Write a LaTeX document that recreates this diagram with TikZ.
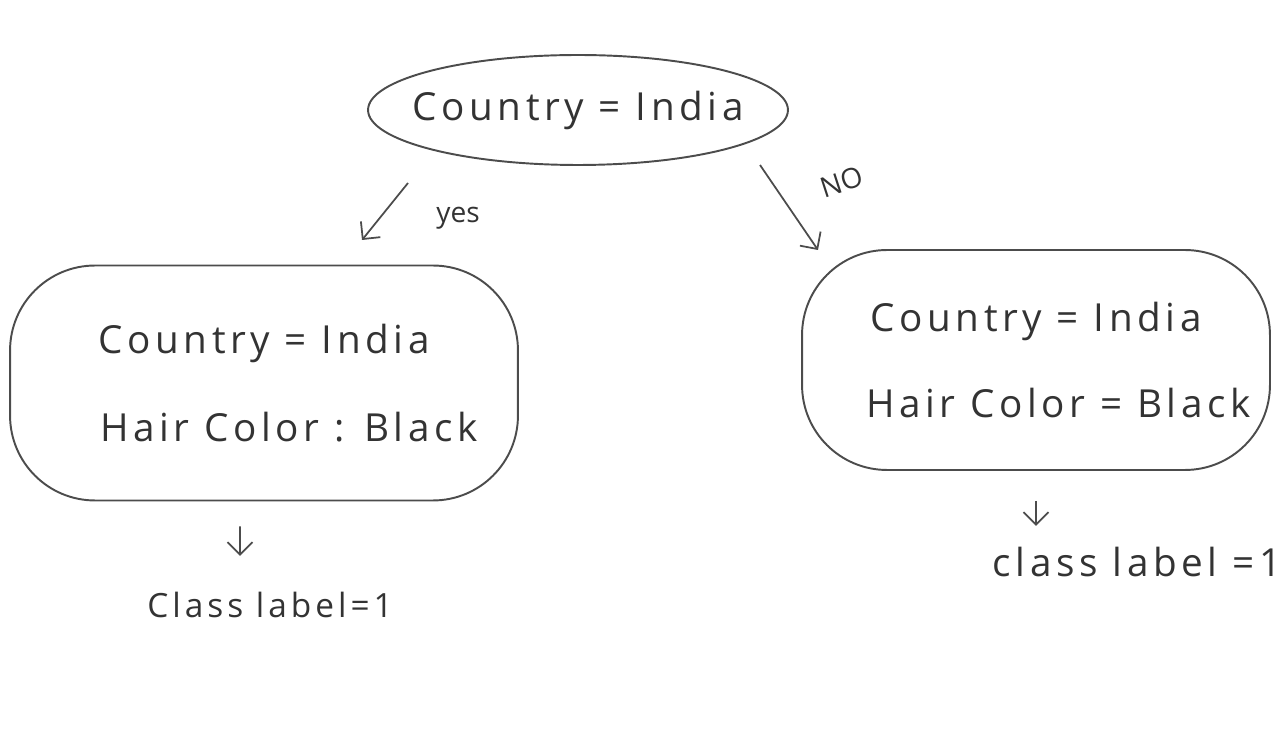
\documentclass[tikz,border=0pt]{standalone}
\usepackage{fontspec}
\setsansfont{Open Sans}[LetterSpace=12]
\newfontfamily\plainsans{Open Sans}
\usetikzlibrary{shapes.geometric,arrows.meta,positioning}
\definecolor{pencil}{gray}{0.3}
\tikzset{
  ink/.style={draw=pencil, line width=1.1pt},
  hand/.style={text=black!80, font=\sffamily\fontsize{22}{26}\selectfont},
  small hand/.style={text=black!80, font=\plainsans\fontsize{16}{19}\selectfont},
  decision/.style={ink, ellipse, minimum width=8.4cm, minimum height=2.2cm, inner xsep=-0.8cm, inner ysep=0pt},
  leafbox/.style={ink, rectangle, rounded corners=1.7cm, align=center, inner sep=0pt},
  pointer/.style={draw=pencil, line width=1pt, -{Straight Barb[length=2.5mm,width=5mm]}}
}
\begin{document}
\begin{tikzpicture}[x=0.02cm,y=-0.02cm]
\useasboundingbox (0,0) rectangle (1280,742);
\node[decision, hand] (root) at (578,110) {Country = India};
\node[leafbox, hand, minimum width=10.16cm, minimum height=4.7cm] (yesnode) at (264,383)
  {Country = India\\[0.85cm] \hspace*{1cm}Hair Color : Black};
\node[leafbox, hand, minimum width=9.36cm, minimum height=4.4cm] (nonode) at (1036,360)
  {\rule{0pt}{0.4cm}Country = India\\[0.8cm] \hspace*{0.9cm}Hair Color = Black};
\node[small hand] (yeslabel) at (458,218) {yes};
\node[small hand, rotate=18] (nolabel) at (842,182) {NO};
\node[hand, font=\sffamily\fontsize{19}{23}\selectfont] (yesclass) at (270,605) {Class label=1};
\node[hand] (noclass) at (1137,562) {class label =1};
% branch arrows
\coordinate (yes from) at (408,183);
\coordinate (yes to) at (362,240);
\coordinate (no from) at (760,165);
\coordinate (no to) at (818,250);
\draw[pointer] (yes from) -- (yes to);
\draw[pointer] (no from) -- (no to);
\draw[pointer] ([xshift=-0.48cm,yshift=-0.5cm]yesnode.south) -- ([xshift=-0.6cm,yshift=0.6cm]yesclass.north);
\draw[pointer] ([yshift=-0.6cm]nonode.south) -- ([yshift=0.3cm]noclass.north -| nonode);
\end{tikzpicture}
\end{document}
